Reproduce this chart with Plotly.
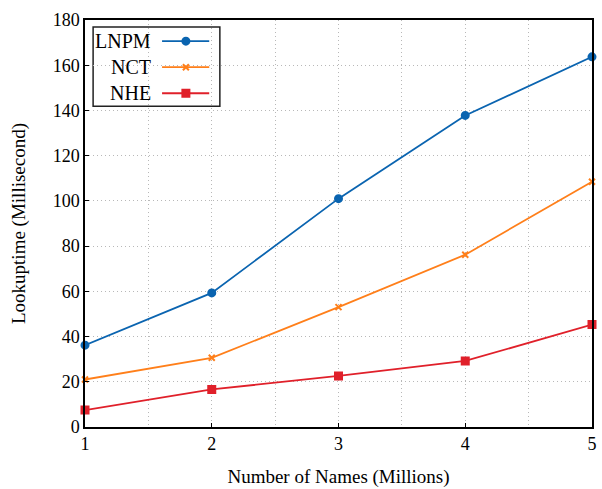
import plotly.graph_objects as go

x_vals = [1, 2, 3, 4, 5]
lnpm = [36.2, 59.3, 101, 137.8, 163.7]
nct = [21.0, 30.6, 53.0, 76.2, 108.5]
nhe = [7.5, 16.6, 22.6, 29.2, 45.3]
series_names = ["LNPM", "NCT", "NHE"]
colors = ["#0a64b0", "#ff7f1a", "#e0202a"]
symbols = ["circle", "x-thin-open", "square"]
sizes = [7, 6, 7]

FONT = "Liberation Serif, Times New Roman, serif"
GRID = "#b8b8b8"
GDASH = "1px,3px"
fig = go.Figure()
for name, ys, c, s, sz in zip(series_names, [lnpm, nct, nhe], colors, symbols, sizes):
    fig.add_trace(go.Scatter(x=x_vals, y=ys, mode="lines+markers", name=name,
                             line=dict(color=c, width=1.8),
                             marker=dict(symbol=s, size=sz, color=c, line=dict(color=c, width=2)),
                             cliponaxis=False, showlegend=False))

# custom legend (text on left, sample on right) drawn in an overlay axis in paper units
lx0, lx1, ly0, ly1 = 0.016, 0.266, 0.788, 0.983
fig.add_shape(type="rect", xref="paper", yref="paper", x0=lx0, x1=lx1, y0=ly0, y1=ly1,
              line=dict(color="#222", width=1.5), fillcolor="white", layer="between")
row_y = [0.948, 0.884, 0.820]
for name, c, s, sz, ry in zip(series_names, colors, symbols, sizes, row_y):
    fig.add_annotation(xref="paper", yref="paper", x=0.135, y=ry, text=name, showarrow=False,
                       xanchor="right", yanchor="middle", font=dict(family=FONT, size=20, color="black"))
    fig.add_trace(go.Scatter(x=[0.152, 0.245], y=[ry, ry], xaxis="x2", yaxis="y2", mode="lines",
                             line=dict(color=c, width=1.8), showlegend=False, hoverinfo="skip"))
    fig.add_trace(go.Scatter(x=[0.199], y=[ry], xaxis="x2", yaxis="y2", mode="markers",
                             marker=dict(symbol=s, size=sz, color=c, line=dict(color=c, width=2)),
                             showlegend=False, hoverinfo="skip"))

axis_common = dict(showline=True, linecolor="black", linewidth=1.5, mirror=True,
                   ticks="inside", ticklen=4, tickcolor="black",
                   gridcolor=GRID, griddash=GDASH, gridwidth=1, zeroline=False,
                   tickfont=dict(family=FONT, size=18, color="black"))
fig.update_layout(
    width=602, height=489,
    margin=dict(l=85, r=5, t=20, b=59),
    paper_bgcolor="white", plot_bgcolor="white",
    xaxis=dict(range=[1, 5], tickvals=x_vals, showgrid=True,
               minor=dict(dtick=0.5, showgrid=True, gridcolor=GRID, griddash=GDASH, ticks=""),
               title=dict(text="Number of Names (Millions)", font=dict(family=FONT, size=19, color="black"), standoff=16),
               **axis_common),
    yaxis=dict(range=[0, 180], dtick=20, showgrid=True,
               title=dict(text="Lookuptime (Millisecond)", font=dict(family=FONT, size=19, color="black"), standoff=22),
               **axis_common),
    xaxis2=dict(range=[0, 1], domain=[0, 1], overlaying="x", visible=False, fixedrange=True),
    yaxis2=dict(range=[0, 1], domain=[0, 1], overlaying="y", visible=False, fixedrange=True),
)
fig.write_html("out.html", config={"displayModeBar": False},
               post_script="document.body.style.margin='0';")
